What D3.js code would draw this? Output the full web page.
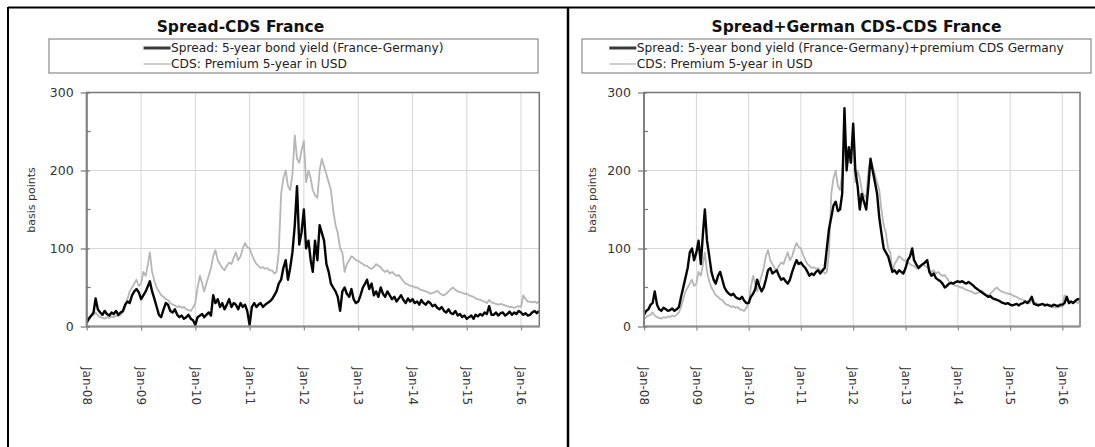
<!DOCTYPE html>
<html><head><meta charset="utf-8">
<script src="https://cdn.jsdelivr.net/npm/d3@7/dist/d3.min.js"></script>
<style>html,body{margin:0;padding:0;background:#fff}svg{display:block}</style>
</head><body><svg id="c" width="1095" height="447"></svg>
<script>
// ---------- data (semi-monthly observations, Jan 2008 - May 2016) ----------
const titles = ["Spread-CDS France", "Spread+German CDS-CDS France"];
const legendLeft = ["Spread: 5-year bond yield (France-Germany)", "CDS: Premium 5-year in USD"];
const legendRight = ["Spread: 5-year bond yield (France-Germany)+premium CDS Germany", "CDS: Premium 5-year in USD"];
const yAxisTitle = "basis points";
const yearTicks = ["Jan-08","Jan-09","Jan-10","Jan-11","Jan-12","Jan-13","Jan-14","Jan-15","Jan-16"];
const yTicks = [0, 100, 200, 300];
const yMinorTicks = [50, 150, 250];
const yGrid = [100, 200];

const spreadFR = [
  5,10, 14,18, 36,22, 18,15, 20,16, 14,18, 16,20, 15,18, 20,28, 32,30, 40,45, 48,44,
  35,40, 45,52, 58,45, 35,25, 15,12, 22,30, 28,20, 18,22, 15,12, 14,10, 12,15, 10,8,
  2,12, 14,16, 12,15, 18,14, 40,30, 35,25, 30,22, 28,35, 25,30, 28,22, 30,25, 28,20,
  2,25, 30,25, 28,30, 25,28, 30,32, 35,40, 45,55, 60,75, 85,60, 75,95, 130,180, 105,120,
  150,100, 110,85, 70,110, 85,130, 120,110, 80,70, 55,50, 45,38, 20,45, 50,42, 38,48, 35,30,
  32,40, 50,55, 60,48, 55,40, 45,38, 50,42, 38,45, 40,35, 38,32, 36,40, 34,30, 36,32,
  35,30, 32,28, 34,30, 28,32, 30,26, 28,24, 22,25, 20,18, 22,17, 16,20, 14,16, 12,14,
  10,12, 14,10, 15,13, 16,14, 18,16, 26,15, 15,18, 14,17, 18,14, 16,19, 15,18, 16,20,
  18,15, 17,14, 15,18, 20,17, 20
];
const cdsFR = [
  10,12, 14,15, 18,14, 12,11, 10,12, 11,13, 12,14, 13,15, 18,25, 35,45, 50,55, 60,52,
  55,70, 65,80, 95,70, 58,50, 45,40, 38,35, 34,30, 28,27, 25,26, 24,25, 22,21, 20,24,
  30,50, 65,55, 45,55, 65,75, 90,98, 85,80, 75,72, 78,82, 80,88, 95,85, 90,100, 107,102,
  100,92, 85,80, 78,75, 76,74, 75,72, 72,68, 70,95, 170,190, 200,180, 175,195, 245,215, 210,225,
  238,185, 200,190, 175,168, 165,200, 215,205, 195,185, 175,150, 130,120, 100,95, 70,80, 85,90, 88,85,
  84,82, 80,78, 78,75, 74,76, 80,78, 76,72, 70,72, 68,70, 67,65, 66,62, 58,55, 54,52,
  52,50, 50,48, 47,46, 45,44, 42,43, 44,46, 43,41, 40,42, 45,48, 50,47, 45,44, 43,42,
  42,40, 39,38, 36,35, 34,33, 32,30, 34,31, 30,29, 28,29, 28,27, 26,25, 25,24, 25,26,
  25,40, 35,32, 32,31, 32,30, 32
];
const spreadPlusDE = [
  15,20, 22,28, 30,45, 28,22, 20,24, 22,20, 21,23, 20,22, 25,38, 50,62, 75,95, 100,85,
  95,110, 80,120, 150,110, 90,70, 60,55, 65,70, 60,50, 45,42, 40,42, 38,36, 35,38, 33,30,
  30,38, 42,48, 60,52, 45,50, 60,72, 75,68, 70,72, 65,60, 62,58, 55,60, 70,78, 85,80,
  82,78, 75,70, 65,68, 66,70, 72,68, 72,75, 100,125, 140,155, 160,148, 150,170, 280,200, 230,210,
  260,200, 180,150, 170,160, 150,180, 215,200, 185,170, 140,120, 100,95, 90,80, 70,72, 68,72, 70,68,
  75,85, 90,100, 85,80, 75,78, 80,82, 85,70, 65,68, 62,60, 58,55, 50,52, 55,56, 55,57,
  58,57, 58,56, 55,57, 55,53, 50,48, 46,44, 42,40, 38,39, 36,35, 34,33, 31,30, 29,30,
  28,27, 28,29, 27,29, 30,32, 30,33, 38,29, 28,27, 28,29, 27,28, 27,26, 28,27, 26,28,
  28,30, 38,30, 32,30, 33,35, 35
];

// ---------- drawing ----------
const FONT = '"DejaVu Sans", Verdana, sans-serif';
const svg = d3.select("#c").style("font-family", FONT);
svg.append("rect").attr("width", 1095).attr("height", 447).attr("fill", "#fff");

const start = new Date(2008, 0, 1);
const dates = d3.range(spreadFR.length).map(i =>
  d3.timeDay.offset(d3.timeMonth.offset(start, Math.floor(i / 2)), (i % 2) * 15));
const endDate = new Date(2016, 4, 3);
const tickDates = yearTicks.map((_, i) => new Date(2008 + i, 0, 1));

const plotTop = 92.5, plotBottom = 326.5;

const panels = [
  { title: titles[0], titleX: 240.5, box: [49, 538], plot: [86.7, 539.3], ylabX: 31,
    series: [{ name: legendLeft[0], values: spreadFR, kind: "spread" },
             { name: legendLeft[1], values: cdsFR, kind: "cds" }] },
  { title: titles[1], titleX: 856.5, box: [582, 1091], plot: [644, 1080], ylabX: 592,
    series: [{ name: legendRight[0], values: spreadPlusDE, kind: "spread" },
             { name: legendRight[1], values: cdsFR, kind: "cds" }] }
];

const style = {
  spread: { stroke: "#050505", width: 2.4, legendStroke: "#3a3a3a", legendWidth: 3 },
  cds: { stroke: "#b6b6b6", width: 1.8, legendStroke: "#cfcfcf", legendWidth: 2 }
};

panels.forEach(p => {
  const g = svg.append("g");
  const x = d3.scaleTime().domain([start, endDate]).range(p.plot);
  const y = d3.scaleLinear().domain([0, 300]).range([plotBottom, plotTop]);

  // title
  g.append("text").attr("x", p.titleX).attr("y", 31.5).attr("text-anchor", "middle")
    .attr("font-size", "15.5px").attr("font-weight", "bold").attr("fill", "#111").text(p.title);

  // legend
  g.append("rect").attr("x", p.box[0]).attr("y", 39).attr("width", p.box[1] - p.box[0]).attr("height", 34)
    .attr("fill", "#fff").attr("stroke", "#8a8a8a").attr("stroke-width", 1.2);
  const lg = g.append("g");
  const rows = lg.selectAll("g").data(p.series).join("g")
    .attr("transform", (d, i) => `translate(0,${48 + i * 16})`);
  rows.append("line").attr("x1", 0).attr("x2", 27)
    .attr("stroke", d => style[d.kind].legendStroke).attr("stroke-width", d => style[d.kind].legendWidth);
  const texts = rows.append("text").attr("x", 27.5).attr("dy", "0.36em")
    .attr("font-size", "12.2px").attr("fill", "#222").text(d => d.name);
  let maxW = 0; texts.each(function () { maxW = Math.max(maxW, this.getComputedTextLength()); });
  const blockW = 27.5 + maxW;
  lg.attr("transform", `translate(${(p.box[0] + p.box[1]) / 2 - blockW / 2},0)`);

  // grid
  g.append("g").selectAll("line").data(yGrid).join("line")
    .attr("x1", p.plot[0]).attr("x2", p.plot[1]).attr("y1", d => y(d)).attr("y2", d => y(d))
    .attr("stroke", "#d6d6d6").attr("stroke-width", 1);
  g.append("g").selectAll("line").data(tickDates.slice(1)).join("line")
    .attr("x1", d => x(d)).attr("x2", d => x(d)).attr("y1", plotTop).attr("y2", plotBottom)
    .attr("stroke", "#d6d6d6").attr("stroke-width", 1);

  // series (grey first, black on top)
  const line = d3.line().x((d, i) => x(dates[i])).y(d => y(d));
  [p.series[1], p.series[0]].forEach(s => {
    g.append("path").datum(s.values).attr("d", line).attr("fill", "none")
      .attr("stroke", style[s.kind].stroke).attr("stroke-width", style[s.kind].width)
      .attr("stroke-linejoin", "round");
  });

  // frame
  g.append("rect").attr("x", p.plot[0]).attr("y", plotTop).attr("width", p.plot[1] - p.plot[0])
    .attr("height", plotBottom - plotTop).attr("fill", "none").attr("stroke", "#777").attr("stroke-width", 1.5);
  g.append("line").attr("x1", p.plot[0]).attr("x2", p.plot[0]).attr("y1", plotTop).attr("y2", plotBottom)
    .attr("stroke", "#808080").attr("stroke-width", 2);
  g.append("line").attr("x1", p.plot[0]).attr("x2", p.plot[1]).attr("y1", plotBottom).attr("y2", plotBottom)
    .attr("stroke", "#909090").attr("stroke-width", 2);

  // y axis
  const ya = g.append("g").attr("transform", `translate(${p.plot[0]},0)`)
    .call(d3.axisLeft(y).tickValues(yTicks).tickSizeInner(6).tickSizeOuter(0).tickFormat(d3.format("d")));
  ya.select(".domain").remove();
  ya.selectAll(".tick line").attr("x1", 3).attr("stroke", "#777").attr("stroke-width", 1.2);
  ya.selectAll(".tick text").attr("x", -13).attr("font-size", "12.5px").attr("fill", "#333")
    .attr("font-family", FONT);
  g.append("g").selectAll("line").data(yMinorTicks).join("line")
    .attr("x1", p.plot[0]).attr("x2", p.plot[0] + 4).attr("y1", d => y(d)).attr("y2", d => y(d))
    .attr("stroke", "#777").attr("stroke-width", 1.2);

  // x axis
  const xa = g.append("g").attr("transform", `translate(0,${plotBottom})`)
    .call(d3.axisBottom(x).tickValues(tickDates).tickFormat((d, i) => yearTicks[i]).tickSizeInner(4).tickSizeOuter(0));
  xa.select(".domain").remove();
  xa.selectAll(".tick line").attr("stroke", "#888").attr("stroke-width", 1.2);
  xa.selectAll(".tick text").attr("transform", "rotate(90)").attr("x", 40.5).attr("y", 0)
    .attr("dy", "0.36em").style("text-anchor", "start").attr("font-size", "12px")
    .attr("fill", "#333").attr("font-family", FONT);

  // y axis title
  g.append("text").attr("transform", `translate(${p.ylabX},200) rotate(-90)`).attr("text-anchor", "middle")
    .attr("dy", "0.36em").attr("font-size", "11px").attr("fill", "#333").text(yAxisTitle);
});

// outer frame
svg.append("line").attr("x1", 8).attr("x2", 1095).attr("y1", 7.5).attr("y2", 7.5).attr("stroke", "#000").attr("stroke-width", 2);
svg.append("line").attr("x1", 8).attr("x2", 8).attr("y1", 7).attr("y2", 447).attr("stroke", "#000").attr("stroke-width", 2);
svg.append("line").attr("x1", 568).attr("x2", 568).attr("y1", 7).attr("y2", 447).attr("stroke", "#000").attr("stroke-width", 2.5);
</script>
</body></html>
